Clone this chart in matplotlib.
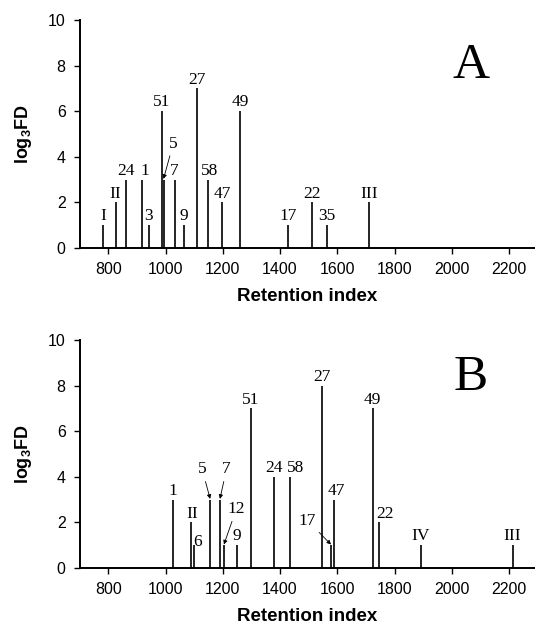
import matplotlib
matplotlib.use("Agg")
import matplotlib.pyplot as plt

plt.rcParams['mathtext.fontset'] = 'custom'
plt.rcParams['mathtext.bf'] = 'Liberation Sans:bold'
plt.rcParams['mathtext.rm'] = 'Liberation Sans:bold'

# Panel A data
ri_a = [781, 826, 861, 917, 942, 986, 993, 1032, 1064, 1111, 1148, 1198, 1260, 1427, 1513, 1565, 1710]
fd_a = [1, 2, 3, 3, 1, 6, 3, 3, 1, 7, 3, 2, 6, 1, 2, 1, 2]
lab_a = ["I", "II", "24", "1", "3", "51", "5", "7", "9", "27", "58", "47", "49", "17", "22", "35", "III"]

# Panel B data
ri_b = [1025, 1089, 1099, 1156, 1190, 1204, 1248, 1298, 1378, 1434, 1545, 1578, 1590, 1723, 1744, 1892, 2212]
fd_b = [3, 2, 1, 3, 3, 1, 1, 7, 4, 4, 8, 1, 3, 7, 2, 1, 1]
lab_b = ["1", "II", "6", "5", "7", "12", "9", "51", "24", "58", "27", "17", "47", "49", "22", "IV", "III"]

x_ticks = [800, 1000, 1200, 1400, 1600, 1800, 2000, 2200]
y_ticks = [0, 2, 4, 6, 8, 10]

# label placement tweaks: label -> (dx in RI units, dy in value units)
shift_a = {"1": (10, 0), "58": (7, 0)}
arrow_a = {"5": (1027, 4.4)}
shift_b = {"6": (14, -0.25), "22": (24, 0), "II": (5, 0), "47": (5, 0), "58": (20, 0)}
arrow_b = {"5": (1128, 4.15), "7": (1213, 4.15), "12": (1247, 2.4), "17": (1496, 1.9)}

fig = plt.figure(figsize=(5.35, 6.29), dpi=100)
ax_a = fig.add_axes([0.1488, 0.6057, 0.851, 0.3625])
ax_b = fig.add_axes([0.1488, 0.0970, 0.851, 0.3625])

serif = 'Liberation Serif'
sans = 'Liberation Sans'
lab_size = 12.5

def draw(ax, ri, fd, lab, shift, arrows, letter, letter_y):
    ax.vlines(ri, 0, fd, color='black', lw=1.2)
    for x, h, t in zip(ri, fd, lab):
        if t in arrows:
            tx, ty = arrows[t]
            ax.annotate(t, xy=(x, h + 0.03), xytext=(tx, ty), ha='center', va='baseline',
                        fontsize=lab_size, family=serif,
                        arrowprops=dict(arrowstyle='-|>', lw=0.6, color='black',
                                        mutation_scale=6, shrinkA=1, shrinkB=0))
        else:
            dx, dy = shift.get(t, (0, 0))
            ax.annotate(t, xy=(x + dx, h + dy), xytext=(0, 3.5), textcoords='offset points',
                        ha='center', va='baseline', fontsize=lab_size, family=serif)
    ax.set_xlim(700, 2290)
    ax.set_ylim(0, 10)
    ax.set_xticks(x_ticks)
    ax.set_yticks(y_ticks)
    for s in ['top', 'right']:
        ax.spines[s].set_visible(False)
    for s in ['left', 'bottom']:
        ax.spines[s].set_linewidth(1.4)
    ax.tick_params(direction='out', length=4, width=1, labelsize=11.5, pad=6)
    for lbl in ax.get_xticklabels() + ax.get_yticklabels():
        lbl.set_family(sans)
    ax.set_xlabel('Retention index', fontsize=13.5, fontweight='bold', family=sans, labelpad=8)
    ax.set_ylabel(r'log$_\mathbf{3}$FD', fontsize=13, fontweight='bold', family=sans, labelpad=10)
    ax.text(0.86, letter_y, letter, transform=ax.transAxes, fontsize=37, family=serif,
            ha='center', va='center')

draw(ax_a, ri_a, fd_a, lab_a, shift_a, arrow_a, 'A', 0.80)
draw(ax_b, ri_b, fd_b, lab_b, shift_b, arrow_b, 'B', 0.835)

fig.savefig('out.png', dpi=100)
